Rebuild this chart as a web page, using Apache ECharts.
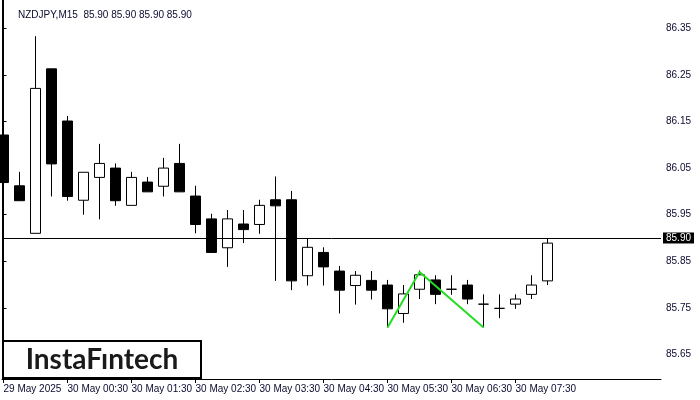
<!DOCTYPE html>
<html>
<head>
<meta charset="utf-8">
<script src="https://cdn.jsdelivr.net/npm/echarts@6/dist/echarts.min.js"></script>
<style>html,body{margin:0;padding:0;background:#fff;}#c{width:700px;height:400px;}</style>
</head>
<body>
<div id="c"></div>
<script>
const opens  = [86.121,86.012,85.910,86.263,86.151,85.981,86.030,86.050,85.970,86.020,86.011,86.060,85.990,85.941,85.879,85.930,85.929,85.982,85.982,85.819,85.869,85.829,85.798,85.809,85.799,85.738,85.790,85.810,85.790,85.799,85.758,85.749,85.758,85.779,85.808];
const closes = [86.019,85.980,86.221,86.059,85.989,86.041,86.060,85.980,86.030,85.999,86.050,85.999,85.929,85.869,85.941,85.918,85.970,85.969,85.808,85.880,85.838,85.788,85.820,85.788,85.748,85.780,85.821,85.779,85.790,85.769,85.758,85.749,85.769,85.799,85.889];
const lows   = [85.980,85.980,85.910,85.989,85.980,85.950,85.940,85.969,85.970,85.999,85.989,85.999,85.910,85.869,85.838,85.889,85.909,85.808,85.788,85.798,85.798,85.738,85.757,85.768,85.708,85.718,85.769,85.758,85.778,85.758,85.708,85.728,85.748,85.769,85.799];
const highs  = [86.132,86.042,86.333,86.263,86.162,86.041,86.102,86.060,86.042,86.031,86.072,86.102,86.012,85.952,85.960,85.960,85.982,86.032,86.001,85.899,85.880,85.840,85.829,85.829,85.810,85.799,85.830,85.820,85.820,85.810,85.779,85.779,85.779,85.820,85.899];
const xTickIdx = [0,4,8,12,16,20,24,28,32];
const xTickLabels = ['29 May 2025','30 May 00:30','30 May 01:30','30 May 02:30','30 May 03:30','30 May 04:30','30 May 05:30','30 May 06:30','30 May 07:30'];
const yTicks = [85.65,85.75,85.85,85.95,86.05,86.15,86.25,86.35];
const currentPrice = 85.90;
const patternIdx = [24,26,30];
const patternVals = [85.708,85.827,85.708];
const titleText = 'NZDJPY,M15  85.90 85.90 85.90 85.90';

const candleData = opens.map((o,i)=>[i,o,closes[i],lows[i],highs[i]]);
const patternData = patternIdx.map((x,i)=>[x,patternVals[i]]);
const FONT = 'Liberation Sans';

const chart = echarts.init(document.getElementById('c'), null, {renderer:'canvas'});
chart.setOption({
  animation:false,
  backgroundColor:'#fff',
  title:{text:titleText,left:13,top:5,textStyle:{fontSize:10,fontWeight:'normal',color:'#0a0a30',fontFamily:FONT}},
  grid:{left:2,right:39,top:0,bottom:21},
  xAxis:{type:'value',min:-0.09375,max:41.09,
    axisLine:{show:true,lineStyle:{color:'#000',width:1}},
    axisTick:{show:true,customValues:xTickIdx,length:4,lineStyle:{color:'#000'}},
    axisLabel:{show:true,customValues:xTickIdx,align:'left',margin:5,fontSize:10,color:'#0a0a30',fontFamily:FONT,hideOverlap:false,
      formatter:(v)=>{const k=xTickIdx.indexOf(Math.round(v));return k>=0?xTickLabels[k]:'';}},
    splitLine:{show:false}},
  yAxis:[{type:'value',position:'right',min:85.5974,max:86.4107,
    axisLine:{show:true,lineStyle:{color:'#000',width:1}},
    axisTick:{show:true,customValues:yTicks,length:3,lineStyle:{color:'#000'}},
    axisLabel:{show:true,customValues:yTicks,margin:5,fontSize:10,color:'#0a0a30',fontFamily:FONT,formatter:(v)=>v.toFixed(2)},
    splitLine:{show:false}},
   {type:'value',position:'left',min:85.5974,max:86.4107,
    axisLine:{show:true,lineStyle:{color:'#000',width:1}},axisTick:{show:false},axisLabel:{show:false},splitLine:{show:false}}],
  series:[
    {type:'candlestick',data:candleData,encode:{x:0,y:[1,2,3,4]},barWidth:10,clip:true,
     itemStyle:{color:'#fff',color0:'#000',borderColor:'#000',borderColor0:'#000',borderWidth:1},
     markLine:{silent:true,symbol:'none',animation:false,
       lineStyle:{color:'#000',width:1,type:'solid'},
       label:{show:true,position:'end',distance:2,formatter:currentPrice.toFixed(2),color:'#fff',backgroundColor:'#000',padding:[1,3,0,3],fontSize:10,fontFamily:FONT},
       data:[{yAxis:currentPrice}]}},
    {type:'line',data:patternData,symbol:'none',lineStyle:{color:'#22dd22',width:2},z:5}
  ],
  graphic:[
    {type:'rect',shape:{x:3,y:341,width:198,height:37},style:{fill:'#fff',stroke:'#000',lineWidth:2},z:100},
    {type:'text',x:102,y:360,style:{text:'InstaFıntech',fontSize:28,fontFamily:'Lato',fontWeight:'bold',fill:'#1a1a1a',align:'center',verticalAlign:'middle'},z:101}
  ]
});
</script>
</body>
</html>
